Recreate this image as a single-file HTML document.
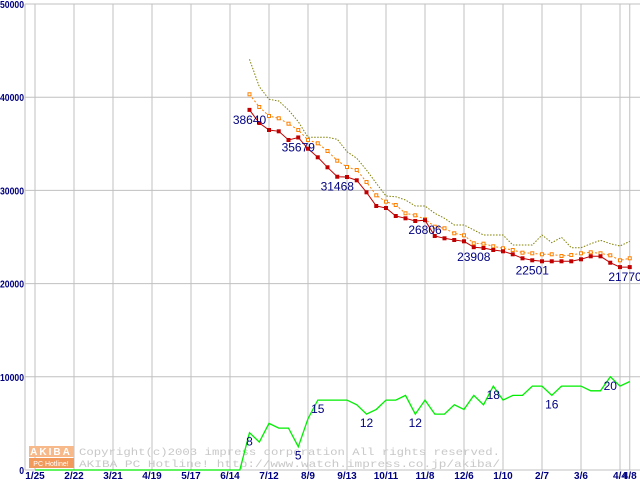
<!DOCTYPE html>
<html><head><meta charset="utf-8"><style>
body{margin:0;background:#fff;}
svg{display:block;font-family:"Liberation Sans",sans-serif;}
</style></head><body>
<svg id="chart" width="640" height="480" viewBox="0 0 640 480" xmlns="http://www.w3.org/2000/svg">
<g id="grid"></g>
<g id="watermark">
  <rect x="29" y="446" width="45" height="11" fill="#f7b98a"/>
  <text x="51" y="455" font-size="10" font-weight="bold" fill="#fff" text-anchor="middle" letter-spacing="2">AKIBA</text>
  <rect x="29" y="458" width="45" height="10" fill="#f29a5c"/>
  <text x="51" y="466" font-size="7" fill="#fff" text-anchor="middle">PC Hotline!</text>
  <text x="79" y="455" font-size="10.5" fill="#c8c8c8" font-family="Liberation Mono, monospace" textLength="421" lengthAdjust="spacingAndGlyphs">Copyright(c)2003 impress corporation All rights reserved.</text>
  <text x="79" y="467" font-size="10.5" fill="#c8c8c8" font-family="Liberation Mono, monospace" textLength="421" lengthAdjust="spacingAndGlyphs">AKIBA PC Hotline!  http://www.watch.impress.co.jp/akiba/</text>
</g>
<g id="series"></g>
<g id="labels"></g>
</svg>
<script>
const xTickLabels=["1/25","2/22","3/21","4/19","5/17","6/14","7/12","8/9","9/13","10/11","11/8","12/6","1/10","2/7","3/6","4/4","4/8"];
const xTickIndex=[0,4,8,12,16,20,24,28,32,36,40,44,48,52,56,60,61];
const yTicks=[0,10000,20000,30000,40000,50000];
const startIdx=22;
const minPrice=[38640,37232,36481,36341,35408,35679,34474,33551,32479,31468,31438,31084,29796,28326,28112,27253,27006,26717,26806,25107,24860,24678,24539,23908,23820,23605,23466,23144,22715,22501,22393,22393,22393,22393,22607,22929,22929,22242,21770,21770];
const avgPrice=[40311,38948,37983,37736,37157,36481,35408,35054,34227,33186,32511,32189,30901,29474,28788,28433,27543,27328,26899,26105,25933,25397,25182,24324,24281,24002,23787,23605,23315,23251,23144,23144,22961,23069,23251,23358,23251,23036,22500,22715];
const maxPrice=[44067,41126,39775,39592,38627,37372,35698,35698,35698,35483,34152,33444,32189,30758,29399,29325,28970,28326,28326,27540,27006,26288,26288,25751,25215,25215,25215,24142,24142,24142,25215,24389,24968,23852,23852,24281,24646,24281,24034,24539];
const shopCount=[0,0,0,0,0,0,0,0,0,0,0,0,0,0,0,0,0,0,0,0,0,0,8,6,10,9,9,5,11,15,15,15,15,14,12,13,15,15,16,12,15,12,12,14,13,16,14,18,15,16,16,18,18,16,18,18,18,17,17,20,18,19];
const minLabelIdx=[22,27,31,40,45,51,61];
const countLabelIdx=[22,27,29,34,39,47,53,59];

const NS="http://www.w3.org/2000/svg";
const X0=35,DX=9.75,Y0=470,YTOP=4;
const xs=i=>X0+i*DX;
const ys=v=>Y0-(v/50000)*(Y0-YTOP);
const cs=c=>ys(c*500);
function mk(tag,attrs,parent){const e=document.createElementNS(NS,tag);for(const k in attrs)e.setAttribute(k,attrs[k]);parent.appendChild(e);return e;}
const grid=document.getElementById('grid'),ser=document.getElementById('series'),lab=document.getElementById('labels');

mk('line',{x1:25,y1:YTOP,x2:25,y2:Y0,stroke:'#c0c0c0','stroke-width':1},grid);
yTicks.forEach(v=>{
  const y=ys(v);
  const l=mk('line',{x1:25,y1:y,x2:640,y2:y,stroke:'#c0c0c0','stroke-width':1},grid);
  
  
  const s=String(v);
  const w=s.length*4.8;
  const t=mk('text',{x:24-w,y:y+4,'font-size':10,'font-weight':'bold',fill:'#000080',textLength:w,lengthAdjust:'spacingAndGlyphs'},grid);
  t.textContent=s;
  
  
});
xTickIndex.forEach((idx,k)=>{
  const x=xs(idx);
  const l=mk('line',{x1:x,y1:YTOP,x2:x,y2:Y0,stroke:'#c0c0c0','stroke-width':1},grid);
  
  
  const t=mk('text',{x:x,y:479,'font-size':10,'font-weight':'bold',fill:'#000080','text-anchor':'middle'},grid);
  t.textContent=xTickLabels[k];
  
  
});

function pts(arr,off,f){return arr.map((v,i)=>xs(i+off).toFixed(1)+','+f(v).toFixed(1)).join(' ');}
const g=mk('polyline',{points:pts(shopCount,0,cs),fill:'none',stroke:'#00ee00','stroke-width':1.3},ser);


const mx=mk('polyline',{points:pts(maxPrice,startIdx,ys),fill:'none',stroke:'#808000','stroke-width':1,'stroke-dasharray':'1.5,1.5'},ser);


const av=mk('polyline',{points:pts(avgPrice,startIdx,ys),fill:'none',stroke:'#ff8000','stroke-width':1,'stroke-dasharray':'2,2'},ser);


avgPrice.forEach((v,i)=>{
  const r=mk('rect',{x:xs(i+startIdx)-1.5,y:ys(v)-1.5,width:3,height:3,fill:'#fff',stroke:'#ff8000','stroke-width':1},ser);
  
  
});
const mn=mk('polyline',{points:pts(minPrice,startIdx,ys),fill:'none',stroke:'#c00000','stroke-width':1},ser);


minPrice.forEach((v,i)=>{
  const r=mk('rect',{x:xs(i+startIdx)-2,y:ys(v)-2,width:4,height:4,fill:'#c00000'},ser);
  
  
});
minLabelIdx.forEach(idx=>{
  const v=minPrice[idx-startIdx];
  let x=xs(idx);
  const t=mk('text',{x:Math.min(x,625),y:ys(v)+14,'font-size':12,fill:'#000080','text-anchor':'middle'},lab);
  t.textContent=v;
  
  
});
countLabelIdx.forEach(idx=>{
  const v=shopCount[idx];
  const t=mk('text',{x:xs(idx),y:cs(v)+13,'font-size':12,fill:'#000080','text-anchor':'middle'},lab);
  t.textContent=v;
  
  
});
</script>
</body></html>
